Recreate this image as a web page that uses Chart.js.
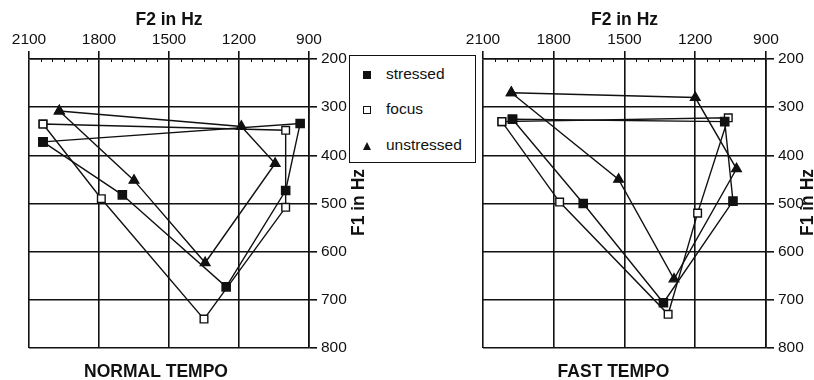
<!DOCTYPE html>
<html>
<head>
<meta charset="utf-8">
<script src="https://cdn.jsdelivr.net/npm/chart.js@4.4.1/dist/chart.umd.min.js"></script>
<style>
  body { margin: 0; background: #fff; width: 814px; height: 380px; overflow: hidden; position: relative; font-family: "Liberation Sans", Arial, sans-serif; }
  canvas { position: absolute; top: 0; }
  #normal { left: 0; }
  #fast { left: 400px; }
  #legend { position: absolute; left: 349px; top: 55px; width: 125px; height: 106px; border: 1.6px solid #111; background: #fff; z-index: 2; }
  .item { position: absolute; left: 36px; font-size: 15.5px; color: #111; line-height: 18px; }
  .mk { position: absolute; box-sizing: border-box; }
</style>
</head>
<body>
<canvas id="normal" width="400" height="380"></canvas>
<canvas id="fast" width="414" height="380"></canvas>
<div id="legend"></div>
<script>
// axes
const f2Ticks = [2100, 1800, 1500, 1200, 900];
const f1Ticks = [200, 300, 400, 500, 600, 700, 800];
const series = ['stressed', 'focus', 'unstressed'];

// NORMAL TEMPO, vowels in order around the triangle (F2 Hz / F1 Hz)
const normalStressedF2 = [2040, 1700, 1255, 1000, 938];
const normalStressedF1 = [372, 482, 673, 473, 334];
const normalFocusF2 = [2040, 1790, 1350, 1000, 1000];
const normalFocusF1 = [335, 490, 740, 508, 348];
const normalUnstressedF2 = [1970, 1650, 1345, 1045, 1190];
const normalUnstressedF1 = [308, 452, 623, 417, 340];

// FAST TEMPO
const fastStressedF2 = [1975, 1675, 1335, 1040, 1075];
const fastStressedF1 = [325, 500, 706, 495, 330];
const fastFocusF2 = [2020, 1775, 1315, 1190, 1060];
const fastFocusF1 = [330, 497, 730, 520, 322];
const fastUnstressedF2 = [1980, 1525, 1290, 1025, 1200];
const fastUnstressedF1 = [270, 450, 657, 428, 280];

const ink = '#111';
const fontFamily = '"Liberation Sans", Arial, sans-serif';

// closed polygon: first vowel repeated at the end
function poly(f2, f1) {
  const pts = f2.map((v, i) => ({ x: v, y: f1[i] }));
  pts.push(pts[0]);
  return pts;
}

const styles = {
  stressed:   { pointStyle: 'rect', pointRadius: 5.8, pointBackgroundColor: ink },
  focus:      { pointStyle: 'rect', pointRadius: 5.4, pointBackgroundColor: '#fff' },
  unstressed: { pointStyle: 'triangle', pointRadius: 5.5, pointBackgroundColor: ink }
};

const extras = {
  id: 'extras',
  afterDraw(chart, args, opts) {
    const { ctx, chartArea, scales: { x } } = chart;
    ctx.save();
    // small ticks every 50 Hz under the top frame
    ctx.strokeStyle = ink;
    ctx.lineWidth = 1;
    for (let v = 900; v <= 2100; v += 50) {
      if (f2Ticks.includes(v)) continue;
      const px = Math.round(x.getPixelForValue(v)) + 0.5;
      ctx.beginPath();
      ctx.moveTo(px, chartArea.top);
      ctx.lineTo(px, chartArea.top + 3);
      ctx.stroke();
    }
    ctx.fillStyle = ink;
    ctx.font = 'bold 17.5px ' + fontFamily;
    ctx.textAlign = 'center';
    ctx.textBaseline = 'middle';
    ctx.fillText(opts.caption, (chartArea.left + chartArea.right) / 2 + opts.captionShift, 372);
    ctx.translate(opts.f1X, (chartArea.top + chartArea.bottom) / 2 - 1);
    ctx.rotate(-Math.PI / 2);
    ctx.fillText('F1 in Hz', 0, 0);
    ctx.restore();
  }
};

function makePanel(id, data, padLeft, yWidth, caption, captionShift, f1X) {
  const datasets = series.map((name, i) => Object.assign({
    label: name,
    data: data[i],
    showLine: true,
    borderColor: ink,
    borderWidth: 1.4,
    pointBorderColor: ink,
    pointBorderWidth: 1.4,
    tension: 0,
    clip: false
  }, styles[name]));

  new Chart(document.getElementById(id), {
    type: 'scatter',
    data: { datasets },
    plugins: [extras],
    options: {
      responsive: false,
      animation: false,
      layout: { padding: { left: padLeft, right: 0, top: 0, bottom: 32 } },
      plugins: {
        legend: { display: false },
        tooltip: { enabled: false },
        extras: { caption, captionShift, f1X }
      },
      scales: {
        x: {
          type: 'linear',
          position: 'top',
          reverse: true,
          min: 900,
          max: 2100,
          afterBuildTicks: s => { s.ticks = f2Ticks.map(v => ({ value: v })); },
          afterFit: s => { s.height = 59; },
          ticks: {
            color: ink,
            font: { family: fontFamily, size: 15.5 },
            padding: 2,
            maxRotation: 0,
            autoSkip: false,
            callback: v => String(v)
          },
          grid: { color: ink, lineWidth: 1.6, tickLength: 8, drawTicks: true },
          border: { color: ink, width: 1.6 },
          title: {
            display: true,
            text: 'F2 in Hz',
            color: ink,
            font: { family: fontFamily, size: 17.5, weight: 'bold' },
            padding: { top: 10, bottom: 0 }
          }
        },
        y: {
          type: 'linear',
          position: 'right',
          reverse: true,
          min: 200,
          max: 800,
          afterBuildTicks: s => { s.ticks = f1Ticks.map(v => ({ value: v })); },
          afterFit: s => { s.width = yWidth; },
          ticks: {
            color: ink,
            font: { family: fontFamily, size: 15.5 },
            padding: 4,
            callback: v => String(v)
          },
          grid: { color: ink, lineWidth: 1.6, tickLength: 8, drawTicks: true },
          border: { color: ink, width: 1.6 }
        }
      }
    }
  });
}

makePanel('normal',
  [poly(normalStressedF2, normalStressedF1), poly(normalFocusF2, normalFocusF1), poly(normalUnstressedF2, normalUnstressedF1)],
  29, 91, 'NORMAL TEMPO', -13, 359);
makePanel('fast',
  [poly(fastStressedF2, fastStressedF1), poly(fastFocusF2, fastFocusF1), poly(fastUnstressedF2, fastUnstressedF1)],
  83, 48, 'FAST TEMPO', -11, 408);

// legend box between the panels
const legend = document.getElementById('legend');
const rowY = [19, 54, 90];
series.forEach((name, i) => {
  const mk = document.createElement('div');
  mk.className = 'mk';
  if (name === 'stressed') {
    Object.assign(mk.style, { left: '13px', top: (rowY[i] - 4) + 'px', width: '8px', height: '8px', background: ink });
  } else if (name === 'focus') {
    Object.assign(mk.style, { left: '13px', top: (rowY[i] - 4) + 'px', width: '8px', height: '8px', border: '1.5px solid ' + ink });
  } else {
    Object.assign(mk.style, { left: '13px', top: (rowY[i] - 4) + 'px', width: '0', height: '0',
      borderLeft: '4.5px solid transparent', borderRight: '4.5px solid transparent', borderBottom: '8px solid ' + ink });
  }
  legend.appendChild(mk);
  const t = document.createElement('div');
  t.className = 'item';
  t.style.top = (rowY[i] - 10) + 'px';
  t.textContent = name;
  legend.appendChild(t);
});
</script>
</body>
</html>
